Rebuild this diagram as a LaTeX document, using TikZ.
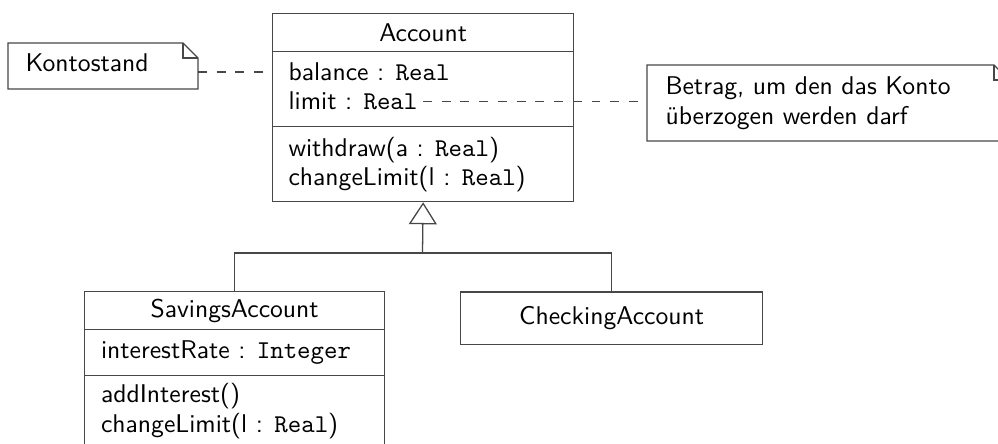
\documentclass[tikz,border=0pt]{standalone}
\usetikzlibrary{arrows.meta,calc}
\def\pxu{0.39pt}
\begin{document}
\begin{tikzpicture}[x=0.39pt,y=-0.39pt,
  every node/.style={font=\sffamily\fontsize{10}{11.5}\selectfont, text=black},
  ln/.style={draw=black!72, line width=0.5pt},
  comp/.style 2 args={ln, rectangle, inner sep=0pt, anchor=north west, minimum width={#1*\pxu}, minimum height={#2*\pxu}},
  notebox/.style 2 args={draw=none, rectangle, inner sep=0pt, anchor=north west, minimum width={#1*\pxu}, minimum height={#2*\pxu}},
  txt/.style={inner sep=0pt, anchor=base west},
  dashline/.style={ln, dash pattern=on 3.5pt off 3.8pt},
  inh/.style={ln, -{Triangle[open, length={22*\pxu}, width={28*\pxu}]}}
]
\path[use as bounding box, fill=white] (0,0) rectangle (998,444);
\clip (0,0) rectangle (998,444);

% Account
\node[comp={301}{38}] (accname) at (272,13) {Account};
\node[comp={301}{75}] (accattr) at (272,51) {};
\node[comp={301}{75}] (accops) at (272,126) {};
\node[txt] (bal) at (288,80.7) {balance : \texttt{Real}};
\node[txt] (lim) at (288,110) {limit : \texttt{Real}};
\node[txt] (wd) at (288,156.7) {withdraw(a : \texttt{Real})};
\node[txt] (cl) at (288,185.7) {changeLimit(l : \texttt{Real})};

% SavingsAccount
\node[comp={300}{38}] (savname) at (84,291) {SavingsAccount};
\node[comp={300}{46}] (savattr) at (84,329) {};
\node[comp={300}{80}] (savops) at (84,375) {};
\node[txt] (ir) at (100.5,359) {interestRate : \texttt{Integer}};
\node[txt] (ai) at (100.5,403) {addInterest()};
\node[txt] (scl) at (100.5,432.7) {changeLimit(l : \texttt{Real})};

% CheckingAccount
\node[comp={302}{52.5}] (chk) at (460,291.5) {CheckingAccount};

% Note: Kontostand
\node[notebox={189}{45}] (kont) at (8,43) {};
\node[txt] (konttxt) at (25,71.7) {Kontostand};
\draw[ln] (kont.north west) -- ($(kont.north east)+(-15,0)$) -- ($(kont.north east)+(0,15)$) -- (kont.south east) -- (kont.south west) -- cycle;
\draw[ln] ($(kont.north east)+(-15,0)$) |- ($(kont.north east)+(0,15)$);

% Note: Betrag
\node[notebox={361}{75}] (bet) at (647,65) {};
\node[txt] (bett1) at (665,95) {Betrag, um den das Konto};
\node[txt] (bett2) at (665,125) {überzogen werden darf};
\draw[ln] (bet.north west) -- ($(bet.north east)+(-15,0)$) -- ($(bet.north east)+(0,15)$) -- (bet.south east) -- (bet.south west) -- cycle;
\draw[ln] ($(bet.north east)+(-15,0)$) |- ($(bet.north east)+(0,15)$);

% Note connectors
\draw[dashline] (kont.east |- bal.west) -- (accattr.west |- bal.west);
\draw[dashline, shorten <=2pt] (lim.east) -- (bet.west |- lim.east);

% Generalization
\coordinate (j) at (422.5,253);
\draw[inh] (j) -- (accops.south);
\draw[ln] (savname.north) |- (j) -| (chk.north);
\end{tikzpicture}
\end{document}
